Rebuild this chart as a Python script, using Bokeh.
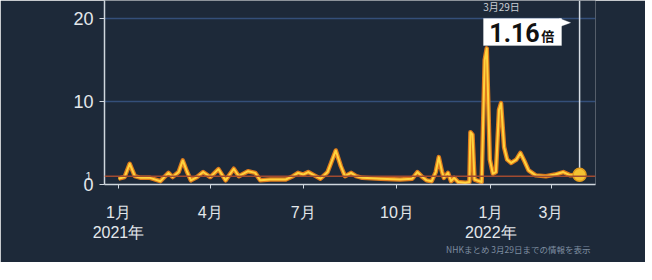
import pandas as pd
from bokeh.plotting import figure
from bokeh.models import (FixedTicker, Label, BoxAnnotation, Span, PolyAnnotation,
                          LinearAxis, Title)
from bokeh.embed import file_html
from bokeh.resources import INLINE

# ---- data ----
dates = ["2021-01-01", "2021-01-07", "2021-01-12", "2021-01-17", "2021-01-23", "2021-02-01",
         "2021-02-11", "2021-02-19", "2021-02-23", "2021-03-01", "2021-03-05", "2021-03-09",
         "2021-03-13", "2021-03-19", "2021-03-25", "2021-04-01", "2021-04-09", "2021-04-16",
         "2021-04-24", "2021-04-29", "2021-05-08", "2021-05-15", "2021-05-20", "2021-05-30",
         "2021-06-14", "2021-06-21", "2021-06-26", "2021-07-01", "2021-07-06", "2021-07-12",
         "2021-07-18", "2021-07-25", "2021-08-02", "2021-08-07", "2021-08-11", "2021-08-17",
         "2021-08-22", "2021-08-28", "2021-09-15", "2021-10-04", "2021-10-16", "2021-10-21",
         "2021-10-25", "2021-10-30", "2021-11-04", "2021-11-08", "2021-11-11", "2021-11-14",
         "2021-11-16", "2021-11-20", "2021-11-23", "2021-11-26", "2021-11-30", "2021-12-07",
         "2021-12-11", "2021-12-12", "2021-12-14", "2021-12-16", "2021-12-23", "2021-12-26",
         "2021-12-28", "2021-12-31", "2022-01-03", "2022-01-06", "2022-01-09", "2022-01-11",
         "2022-01-14", "2022-01-17", "2022-01-21", "2022-01-26", "2022-01-30", "2022-02-03",
         "2022-02-07", "2022-02-14", "2022-02-24", "2022-03-05", "2022-03-13", "2022-03-20",
         "2022-03-29"]
ratios = [0.7, 0.9, 2.5, 1.0, 0.8, 0.8,
          0.4, 1.4, 0.9, 1.5, 2.9, 1.6,
          0.5, 0.9, 1.5, 0.9, 1.85, 0.5,
          1.9, 1.0, 1.6, 1.4, 0.5, 0.6,
          0.6, 1.0, 1.4, 1.2, 1.5, 1.1,
          0.7, 1.5, 4.1, 2.2, 1.0, 1.4,
          1.0, 0.8, 0.7, 0.6, 0.7, 1.5,
          1.0, 0.5, 0.4, 1.5, 3.3, 1.6,
          0.8, 1.4, 0.4, 0.8, 0.3, 0.2,
          0.3, 6.3, 6.0, 0.6, 0.3, 15.0,
          16.4, 3.0, 1.3, 1.5, 9.0, 9.8,
          4.5, 3.0, 2.6, 3.0, 3.8, 2.8,
          1.7, 1.1, 1.0, 1.2, 1.5, 1.1,
          1.16]
ref_level = 1.0
last_date = "2022-03-29"
last_label_date = "3月29日"
last_label_value = "1.16"
last_label_unit = "倍"
tick_dates = ["2021-01-01", "2021-04-01", "2021-07-01", "2021-10-01", "2022-01-01", "2022-03-01"]
tick_labels = ["1月\n2021年", "4月", "7月", "10月", "1月\n2022年", "3月"]
y_ticks = [0, 10, 20]
y_tick_labels = ["0", "10", "20"]
ref_tick_label = "1"
source_note = "NHKまとめ 3月29日までの情報を表示"

origin = pd.Timestamp("2021-01-01")
days = [(pd.Timestamp(d) - origin).days for d in dates]
tick_days = [(pd.Timestamp(d) - origin).days for d in tick_dates]
last_day = (pd.Timestamp(last_date) - origin).days
last_value = ratios[-1]

BG = "#1d2939"
TXT = "#e4e8ec"
AX = "#cfd6dd"
JP = "Noto Sans CJK JP"
Y_END = 22.17

p = figure(width=645, height=262, output_backend="svg", toolbar_location=None,
           x_range=(-13.7, 467.6), y_range=(0, Y_END),
           min_border_left=104, min_border_right=50, min_border_top=0, min_border_bottom=78)
p.background_fill_color = BG
p.border_fill_color = BG
p.outline_line_color = None

# x axis
p.xaxis.ticker = FixedTicker(ticks=tick_days)
p.xaxis.major_label_overrides = {d: t for d, t in zip(tick_days, tick_labels)}
p.xaxis.minor_tick_line_color = None
p.xaxis.major_tick_in = 0
p.xaxis.major_tick_out = 4
p.xaxis.major_label_standoff = 15
p.xaxis.major_label_text_font = "Liberation Sans"
p.xaxis.major_label_text_font_size = "16px"
p.xaxis.major_label_text_color = TXT
p.xaxis.axis_line_color = AX
p.xaxis.axis_line_width = 1.5
p.xaxis.major_tick_line_color = AX

# y axis
p.yaxis.ticker = FixedTicker(ticks=y_ticks)
p.yaxis.major_label_overrides = {v: t for v, t in zip(y_ticks, y_tick_labels)}
p.yaxis.minor_tick_line_color = None
p.yaxis.major_tick_in = 0
p.yaxis.major_tick_out = 5
p.yaxis.major_label_standoff = 6
p.yaxis.major_label_text_font = "Liberation Sans"
p.yaxis.major_label_text_font_size = "18px"
p.yaxis.major_label_text_color = TXT
p.yaxis.axis_line_color = AX
p.yaxis.axis_line_width = 1.5
p.yaxis.major_tick_line_color = AX

# second, label-only axis for the small "1" of the reference level
ax1 = LinearAxis(ticker=FixedTicker(ticks=[ref_level]),
                 major_label_overrides={ref_level: ref_tick_label},
                 axis_line_color=None, major_tick_line_color=None, minor_tick_line_color=None,
                 major_tick_out=0, major_tick_in=0, major_label_standoff=-21,
                 major_label_text_font="Liberation Sans", major_label_text_font_size="11px",
                 major_label_text_color=TXT)
p.add_layout(ax1, "left")

p.xgrid.visible = False
p.ygrid.ticker = FixedTicker(ticks=[10, 20])
p.ygrid.grid_line_color = "#3f5f95"
p.ygrid.grid_line_width = 1.5
p.ygrid.grid_line_alpha = 0.7

# reference line at 1
p.add_layout(Span(location=ref_level, dimension="width", line_color="#a04a30", line_width=1.5))

# vertical marker line
p.segment(x0=[last_day], y0=[last_value], x1=[last_day], y1=[Y_END],
          line_color="#d6dde4", line_width=1.5)

# series
p.line(days, ratios, line_color="#dd7a1c", line_width=4.5, line_join="round")
p.line(days, ratios, line_color="#ffd33d", line_width=2, line_join="round")
p.scatter([last_day], [last_value], size=13, fill_color="#f4c232", line_color="#e09a1c",
          line_width=1.5)

# callout
p.add_layout(BoxAnnotation(left=last_day - 94.2, right=last_day - 17.7, bottom=16.75, top=20.0,
                           fill_color="white", fill_alpha=1, line_color="white"))
p.add_layout(PolyAnnotation(xs=[last_day - 19.6, last_day - 8.8, last_day - 19.6],
                            ys=[20.0, 19.5, 19.0], fill_color="white", fill_alpha=1,
                            line_color="white"))
p.add_layout(Label(x=last_day - 88.5, y=18.3, text=last_label_value,
                   text_font="Roboto", text_font_style="bold", text_font_size="25px",
                   text_color="#111111", text_baseline="middle"))
p.add_layout(Label(x=last_day - 37.5, y=17.9, text=last_label_unit,
                   text_font=JP, text_font_style="bold", text_font_size="13px",
                   text_color="#111111", text_baseline="middle"))
p.add_layout(Label(x=last_day - 76.5, y=21.45, text=last_label_date,
                   text_font=JP, text_font_size="10px", text_color="#c9ced4",
                   text_align="center", text_baseline="middle"))

# source note below the axis
p.add_layout(Title(text=source_note, align="right", offset=5, standoff=-6,
                   text_font=JP, text_font_size="8.5px", text_font_style="normal",
                   text_color="#7e8da0"), "below")

open("out.html", "w").write(file_html(p, INLINE))
